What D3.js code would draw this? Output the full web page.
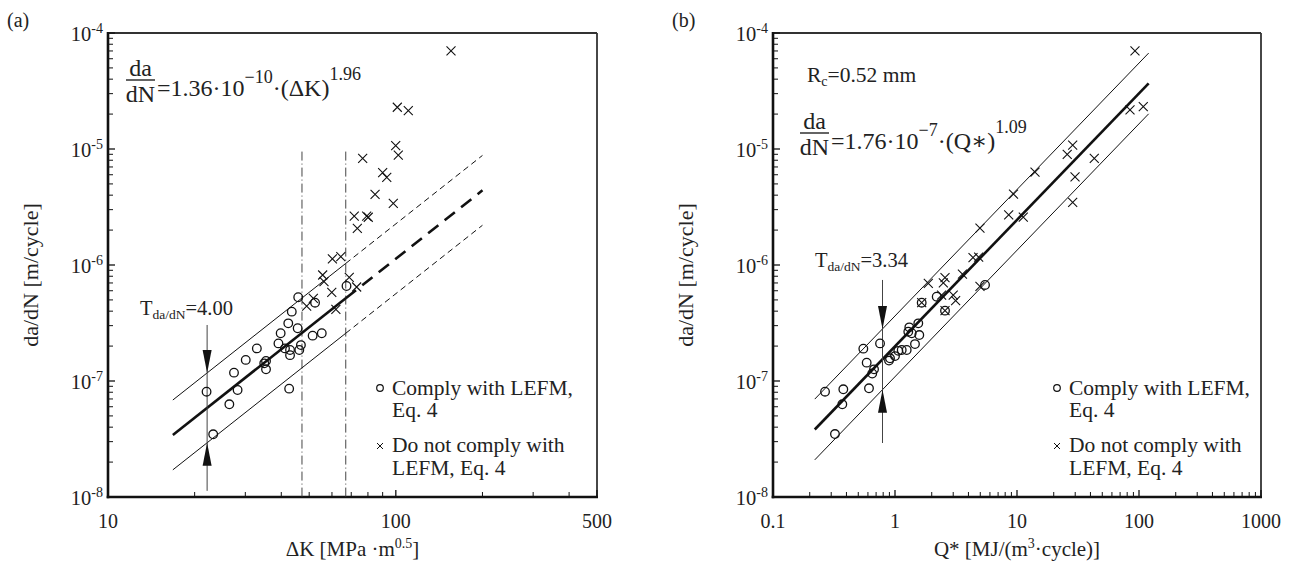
<!DOCTYPE html>
<html>
<head>
<meta charset="utf-8">
<script src="https://cdn.jsdelivr.net/npm/d3@7"></script>
<style>
  body { margin: 0; background: #fff; }
  svg { display: block; font-family: "Liberation Serif", "DejaVu Serif", serif; }
</style>
</head>
<body>
<svg id="chart" width="1293" height="566"></svg>
<script>
// ---- panel (a): da/dN against stress intensity range ----
const leftCircleK = [22.0, 23.2, 26.4, 27.4, 28.2, 30.1, 32.9, 34.9, 35.4, 35.4, 39.1, 39.8, 41.2,
  42.3, 42.6, 42.9, 42.9, 43.5, 45.6, 45.8, 46.2, 46.8, 51.4, 52.4, 55.3, 67.4];
const leftCircleRate = [8.09e-8, 3.47e-8, 6.30e-8, 1.18e-7, 8.36e-8, 1.52e-7, 1.91e-7, 1.42e-7, 1.49e-7,
  1.26e-7, 2.11e-7, 2.58e-7, 1.91e-7, 3.14e-7, 8.59e-8, 1.85e-7, 1.67e-7, 3.96e-7, 2.85e-7, 5.27e-7,
  1.85e-7, 2.04e-7, 2.46e-7, 4.73e-7, 2.58e-7, 6.59e-7];
const leftCrossK = [155.5, 101.2, 110.5, 99.9, 102, 76.7, 90.0, 93.0, 84.7, 98.0, 71.7, 79.2, 80.2,
  73.5, 60.2, 64.4, 55.7, 68.9, 56.3, 59.9, 73.1, 61.9, 49.0, 51.7];
const leftCrossRate = [7.0e-5, 2.29e-5, 2.14e-5, 1.07e-5, 8.87e-6, 8.32e-6, 6.25e-6, 5.70e-6, 4.07e-6,
  3.40e-6, 2.64e-6, 2.64e-6, 2.58e-6, 2.07e-6, 1.13e-6, 1.18e-6, 8.20e-7, 7.83e-7, 7.18e-7, 5.82e-7,
  6.46e-7, 4.15e-7, 4.43e-7, 5.16e-7];
const leftCoef = 1.36e-10;
const leftExp = 1.96;
const leftScatter = 4.00;
const leftSolidK = [16.8, 67];     // fitted range
const leftDashK = [67, 200];       // extrapolated range
const leftLimitK = [47.2, 67];     // vertical dash-dot limits
const leftLimitTop = 9.5e-6;
const leftArrowK = 22.1;
const leftArrowRate = [3.04e-7, 1.13e-8];

// ---- panel (b): da/dN against Q* ----
const rightCircleQ = [0.267, 0.322, 0.370, 0.377, 0.550, 0.586, 0.612, 0.651, 0.673, 0.754, 0.893, 0.910,
  1.00, 1.064, 1.135, 1.247, 1.285, 1.310, 1.371, 1.458, 1.552, 1.582, 1.655, 2.197, 2.570, 5.47];
const rightCircleRate = [8.09e-8, 3.49e-8, 6.30e-8, 8.48e-8, 1.90e-7, 1.44e-7, 8.65e-8, 1.16e-7, 1.26e-7,
  2.11e-7, 1.50e-7, 1.57e-7, 1.64e-7, 1.82e-7, 1.85e-7, 1.85e-7, 2.66e-7, 2.90e-7, 2.58e-7, 2.08e-7,
  3.14e-7, 2.49e-7, 4.73e-7, 5.33e-7, 4.04e-7, 6.73e-7];
const rightCrossQ = [92.7, 84.4, 108.4, 28.6, 25.8, 43.0, 29.9, 14.05, 28.6, 9.36, 8.55, 11.26, 4.97,
  4.36, 4.85, 3.57, 2.57, 4.97, 1.875, 2.41, 3.0, 3.14, 1.655, 2.57, 2.49];
const rightCrossRate = [7.0e-5, 2.17e-5, 2.32e-5, 1.08e-5, 9.0e-6, 8.32e-6, 5.74e-6, 6.33e-6, 3.46e-6,
  4.09e-6, 2.70e-6, 2.59e-6, 2.08e-6, 1.16e-6, 1.17e-6, 8.36e-7, 7.80e-7, 6.53e-7, 6.95e-7, 5.51e-7,
  5.51e-7, 4.92e-7, 4.73e-7, 4.04e-7, 7.0e-7];
const rightLineCoef = 1.99e-7;     // line as drawn in the picture
const rightExp = 1.09;
const rightScatter = 3.34;
const rightLineQ = [0.22, 120];
const rightArrowQ = 0.79;
const rightArrowRate = [7.43e-7, 2.92e-8];

// axis ticks
const yMajor = [1e-8, 1e-7, 1e-6, 1e-5, 1e-4];
const yTickLabels = ['-8', '-7', '-6', '-5', '-4'];
const leftXTicks = [10, 100, 500];
const leftXLabels = ['10', '100', '500'];
const rightXTicks = [0.1, 1, 10, 100, 1000];
const rightXLabels = ['0.1', '1', '10', '100', '1000'];

const svg = d3.select('#chart');

function minorTicks(lo, hi) {
  //every 2..9 multiple in each decade between lo and hi
  const out = [];
  for (let e = Math.log10(lo); e < Math.log10(hi) - 1e-9; e++) {
    for (let m = 2; m < 10; m++) {
      const v = +(m * Math.pow(10, e)).toPrecision(6);
      if (v < hi) out.push(v);
    }
  }
  return out;
}

function drawPanel(p) {
  const g = svg.append('g');
  const x = p.x, y = p.y;
  const [x0, x1] = x.range();
  const [yb, yt] = y.range();
  const line = d3.line().x(d => x(d[0])).y(d => y(d[1]));
  const fit = (v, f) => p.coef * Math.pow(v, p.exp) * f;
  const band = Math.sqrt(p.scatter);

  // frame
  g.append('line').attr('x1', x0).attr('x2', x1).attr('y1', yt).attr('y2', yt)
    .attr('stroke', '#333').attr('stroke-width', 1.8);
  g.append('line').attr('x1', x1).attr('x2', x1).attr('y1', yt).attr('y2', yb)
    .attr('stroke', '#333').attr('stroke-width', 1.8);

  // y ticks (inside)
  yMajor.forEach(v => g.append('line').attr('x1', x0).attr('x2', x0 + 7).attr('y1', y(v)).attr('y2', y(v))
    .attr('stroke', '#111').attr('stroke-width', 1.3));
  minorTicks(1e-8, 1e-4).forEach(v => g.append('line').attr('x1', x0).attr('x2', x0 + 5)
    .attr('y1', y(v)).attr('y2', y(v)).attr('stroke', '#111').attr('stroke-width', 1));

  // x ticks (inside)
  p.xTicks.forEach(v => g.append('line').attr('x1', x(v)).attr('x2', x(v)).attr('y1', yb).attr('y2', yb - 7)
    .attr('stroke', '#111').attr('stroke-width', 1.3));
  minorTicks(p.xTicks[0], p.xTicks[p.xTicks.length - 1]).forEach(v => g.append('line')
    .attr('x1', x(v)).attr('x2', x(v)).attr('y1', yb).attr('y2', yb - 5)
    .attr('stroke', '#111').attr('stroke-width', 1));

  g.append('line').attr('x1', x0).attr('x2', x0).attr('y1', yt - 1).attr('y2', yb + 1.2)
    .attr('stroke', '#111').attr('stroke-width', 2.6);
  g.append('line').attr('x1', x0 - 1.3).attr('x2', x1 + 1).attr('y1', yb).attr('y2', yb)
    .attr('stroke', '#111').attr('stroke-width', 2.6);

  // tick labels
  yMajor.forEach((v, i) => {
    const t = g.append('text').attr('x', x0 - 5).attr('y', y(v) + 8).attr('text-anchor', 'end')
      .attr('font-size', 20.5).attr('fill', '#222');
    t.append('tspan').text('10');
    t.append('tspan').attr('font-size', 14).attr('dy', -8).text(yTickLabels[i]);
  });
  p.xTicks.forEach((v, i) => {
    g.append('text').attr('x', x(v)).attr('y', yb + 31).attr('text-anchor', 'middle')
      .attr('font-size', 20).attr('fill', '#222').text(p.xLabels[i]);
  });

  // axis titles
  g.append('text').attr('transform', `translate(${p.yTitleX},${(yt + yb) / 2 + 10}) rotate(-90)`)
    .attr('text-anchor', 'middle').attr('font-size', 22).attr('fill', '#222')
    .text('da/dN [m/cycle]');
  p.xTitle(g.append('text').attr('x', (x0 + x1) / 2).attr('y', yb + 59).attr('text-anchor', 'middle')
    .attr('font-size', 21).attr('fill', '#222'));

  // panel tag
  g.append('text').attr('x', p.tagX).attr('y', 27).attr('font-size', 20).attr('fill', '#222').text(p.tag);

  // extra lines (limits etc.)
  if (p.extra) p.extra(g, x, y, line);

  // fit line and scatter band
  g.append('path').attr('d', line(p.solid.map(v => [v, fit(v, 1)])))
    .attr('fill', 'none').attr('stroke', '#111').attr('stroke-width', 2.6);
  [band, 1 / band].forEach(f => g.append('path').attr('d', line(p.solid.map(v => [v, fit(v, f)])))
    .attr('fill', 'none').attr('stroke', '#111').attr('stroke-width', 1));
  if (p.dashed) {
    g.append('path').attr('d', line(p.dashed.map(v => [v, fit(v, 1)])))
      .attr('fill', 'none').attr('stroke', '#111').attr('stroke-width', 2.6).attr('stroke-dasharray', '13,8');
    [band, 1 / band].forEach(f => g.append('path').attr('d', line(p.dashed.map(v => [v, fit(v, f)])))
      .attr('fill', 'none').attr('stroke', '#111').attr('stroke-width', 1).attr('stroke-dasharray', '6,4'));
  }

  // scatter-band arrows
  const ax = x(p.arrowX);
  g.append('line').attr('x1', ax).attr('x2', ax).attr('y1', y(p.arrowRate[0])).attr('y2', y(p.arrowRate[1]))
    .attr('stroke', '#444').attr('stroke-width', 1);
  const up = y(fit(p.arrowX, band)), lo = y(fit(p.arrowX, 1 / band));
  g.append('path').attr('d', `M${ax - 4.5},${up - 23}L${ax + 4.5},${up - 23}L${ax},${up}Z`).attr('fill', '#111');
  g.append('path').attr('d', `M${ax - 4.5},${lo + 23}L${ax + 4.5},${lo + 23}L${ax},${lo}Z`).attr('fill', '#111');
  const tl = g.append('text').attr('x', p.tLabel[0]).attr('y', p.tLabel[1]).attr('font-size', 20.5).attr('fill', '#222');
  tl.append('tspan').text('T');
  tl.append('tspan').attr('font-size', 13.5).attr('dy', 4).text('da/dN');
  tl.append('tspan').attr('dy', -4).text('=' + p.scatter.toFixed(2));

  // data
  g.selectAll('circle.pt').data(d3.zip(p.circX, p.circY)).join('circle').attr('class', 'pt')
    .attr('cx', d => x(d[0])).attr('cy', d => y(d[1])).attr('r', 4.3)
    .attr('fill', 'none').attr('stroke', '#111').attr('stroke-width', 1.3);
  g.selectAll('path.cross').data(d3.zip(p.crossX, p.crossY)).join('path').attr('class', 'cross')
    .attr('d', d => {
      const cx = x(d[0]), cy = y(d[1]), s = 4.5;
      return `M${cx - s},${cy - s}L${cx + s},${cy + s}M${cx - s},${cy + s}L${cx + s},${cy - s}`;
    })
    .attr('fill', 'none').attr('stroke', '#111').attr('stroke-width', 1.1);

  // equation
  const [fx, bar] = p.eqPos;
  g.append('text').attr('x', fx + 14.5).attr('y', bar - 4).attr('text-anchor', 'middle')
    .attr('font-size', 24).attr('fill', '#222').text('da');
  g.append('line').attr('x1', fx).attr('x2', fx + 29).attr('y1', bar).attr('y2', bar)
    .attr('stroke', '#222').attr('stroke-width', 1.4);
  g.append('text').attr('x', fx + 14.5).attr('y', bar + 22).attr('text-anchor', 'middle')
    .attr('font-size', 24).attr('fill', '#222').text('dN');
  const eq = g.append('text').attr('x', fx + 31).attr('y', bar + 16).attr('font-size', 24).attr('fill', '#222');
  eq.append('tspan').text('=' + p.eqCoef + '·10');
  eq.append('tspan').attr('font-size', 18).attr('dy', -13).text(p.eqPow);
  eq.append('tspan').attr('dy', 13).text('·(' + p.eqVar + ')');
  eq.append('tspan').attr('font-size', 18).attr('dy', -16).text(p.exp.toFixed(2));

  // legend
  const [lx, ly] = p.legend;
  g.append('circle').attr('cx', lx).attr('cy', ly).attr('r', 3.3).attr('fill', 'none')
    .attr('stroke', '#111').attr('stroke-width', 1.2);
  g.append('path').attr('d', `M${lx - 3},${ly + 55}L${lx + 3},${ly + 61}M${lx - 3},${ly + 61}L${lx + 3},${ly + 55}`)
    .attr('stroke', '#111').attr('stroke-width', 1);
  [['Comply with LEFM,', 7], ['Eq. 4', 29], ['Do not comply with', 64], ['LEFM, Eq. 4', 87]].forEach(r => {
    g.append('text').attr('x', lx + 12).attr('y', ly + r[1]).attr('font-size', 21.5).attr('fill', '#222').text(r[0]);
  });
}

drawPanel({
  tag: '(a)', tagX: 7,
  x: d3.scaleLog().domain([10, 500]).range([108, 597]),
  y: d3.scaleLog().domain([1e-8, 1e-4]).range([497, 33]),
  xTicks: leftXTicks, xLabels: leftXLabels,
  yTitleX: 38,
  xTitle: t => {
    t.append('tspan').text('ΔK [MPa ·m');
    t.append('tspan').attr('font-size', 14).attr('dy', -8).text('0.5');
    t.append('tspan').attr('dy', 8).text(']');
  },
  coef: leftCoef, exp: leftExp, scatter: leftScatter,
  solid: leftSolidK, dashed: leftDashK,
  arrowX: leftArrowK, arrowRate: leftArrowRate, tLabel: [140, 315],
  circX: leftCircleK, circY: leftCircleRate, crossX: leftCrossK, crossY: leftCrossRate,
  eqPos: [126, 80], eqCoef: '1.36', eqPow: '−10', eqVar: 'ΔK',
  legend: [380, 388],
  extra: (g, x, y) => {
    leftLimitK.forEach(k => g.append('line').attr('x1', x(k)).attr('x2', x(k))
      .attr('y1', y(leftLimitTop)).attr('y2', y(1e-8))
      .attr('stroke', '#444').attr('stroke-width', 1).attr('stroke-dasharray', '9,3,1,3'));
  }
});

drawPanel({
  tag: '(b)', tagX: 672,
  x: d3.scaleLog().domain([0.1, 1000]).range([773, 1261]),
  y: d3.scaleLog().domain([1e-8, 1e-4]).range([497, 33]),
  xTicks: rightXTicks, xLabels: rightXLabels,
  yTitleX: 693,
  xTitle: t => {
    t.append('tspan').text('Q* [MJ/(m');
    t.append('tspan').attr('font-size', 14).attr('dy', -8).text('3');
    t.append('tspan').attr('dy', 8).text('·cycle)]');
  },
  coef: rightLineCoef, exp: rightExp, scatter: rightScatter,
  solid: rightLineQ,
  arrowX: rightArrowQ, arrowRate: rightArrowRate, tLabel: [815, 267],
  circX: rightCircleQ, circY: rightCircleRate, crossX: rightCrossQ, crossY: rightCrossRate,
  eqPos: [800, 133], eqCoef: '1.76', eqPow: '−7', eqVar: 'Q∗',
  legend: [1057, 388],
  extra: g => {
    const r = g.append('text').attr('x', 807).attr('y', 82).attr('font-size', 21.5).attr('fill', '#222');
    r.append('tspan').text('R');
    r.append('tspan').attr('font-size', 14).attr('dy', 4).text('c');
    r.append('tspan').attr('dy', -4).text('=0.52 mm');
  }
});
</script>
</body>
</html>
